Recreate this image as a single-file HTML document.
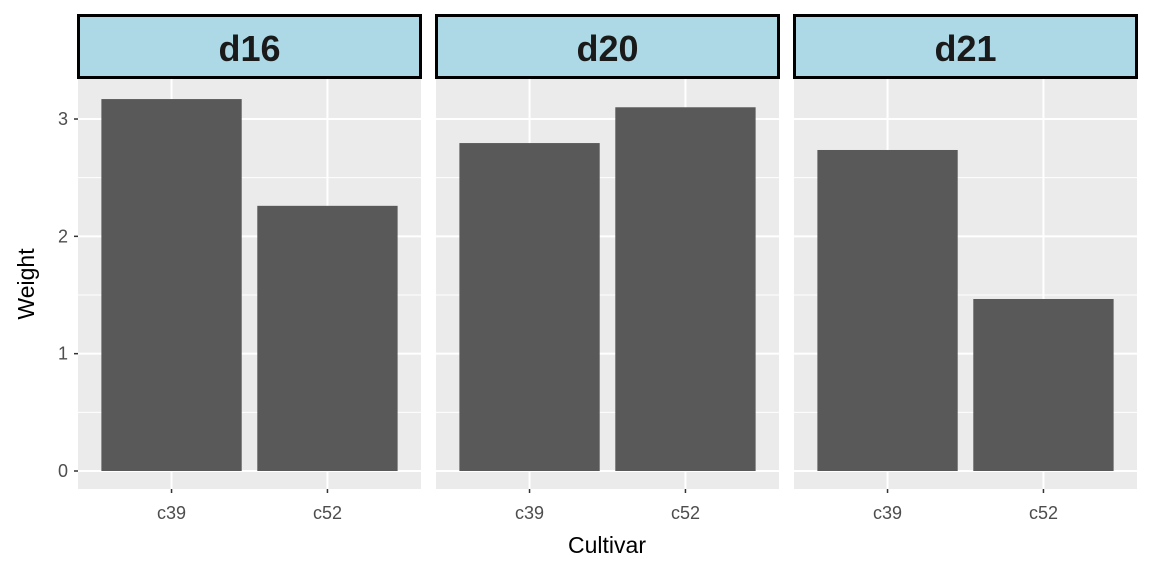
<!DOCTYPE html>
<html><head><meta charset="utf-8"><style>
html,body{margin:0;padding:0;background:#fff;}
svg{display:block;font-family:"Liberation Sans",sans-serif;}
</style></head><body>
<svg id="chart" width="1152" height="576"></svg>
<script>
const facets = ["d16","d20","d21"];
const categories = ["c39","c52"];
const weights = [[3.17,2.26],[2.795,3.10],[2.736,1.466]];
const yTicks = [0,1,2,3];

const NS="http://www.w3.org/2000/svg";
const svg=document.getElementById('chart');
function mk(tag,attrs,parent){const e=document.createElementNS(NS,tag);for(const k in attrs)e.setAttribute(k,attrs[k]);(parent||svg).appendChild(e);return e;}
const panelX=[78,436,794], panelW=343, panelTop=79, panelBottom=489;
const y0=471, yUnit=117.33;
const yS=v=>y0-v*yUnit;
const xS=(i,p)=>panelX[p]+(i+0.6)*(panelW/2.2);
const bw=0.9*panelW/2.2;

facets.forEach((f,p)=>{
  const g=mk('g',{});
  
  
  const bg=mk('rect',{x:panelX[p],y:panelTop,width:panelW,height:panelBottom-panelTop,fill:'#ebebeb'},g);
  
  
  for(let v=0.5;v<=3.5;v+=1){const yy=yS(v);if(yy>panelTop)mk('line',{x1:panelX[p],x2:panelX[p]+panelW,y1:yy,y2:yy,stroke:'#fff','stroke-width':1},g);}
  yTicks.forEach(v=>{const l=mk('line',{x1:panelX[p],x2:panelX[p]+panelW,y1:yS(v),y2:yS(v),stroke:'#fff','stroke-width':2},g);});
  categories.forEach((c,i)=>{mk('line',{x1:xS(i,p),x2:xS(i,p),y1:panelTop,y2:panelBottom,stroke:'#fff','stroke-width':2},g);});
  categories.forEach((c,i)=>{
    const v=weights[p][i];
    const b=mk('rect',{x:xS(i,p)-bw/2,y:yS(v),width:bw,height:yS(0)-yS(v),fill:'#595959'},g);
    
    
    mk('line',{x1:xS(i,p),x2:xS(i,p),y1:panelBottom,y2:panelBottom+4,stroke:'#333','stroke-width':1.5},g);
    const t=mk('text',{x:xS(i,p),y:519,'text-anchor':'middle','font-size':18,fill:'#4d4d4d'},g);
    t.textContent=c;
    
    
  });
  const s=mk('rect',{x:panelX[p]+0.5,y:15.5,width:panelW-1,height:62,fill:'#add8e6',stroke:'#000','stroke-width':3},g);
  
  
  const st=mk('text',{x:panelX[p]+panelW/2,y:61,'text-anchor':'middle','font-size':36,'font-weight':'bold',fill:'#1a1a1a'},g);
  st.textContent=f;
  
  
});
yTicks.forEach(v=>{
  mk('line',{x1:74,x2:78,y1:yS(v),y2:yS(v),stroke:'#333','stroke-width':1.5});
  const t=mk('text',{x:68,y:yS(v)+6,'text-anchor':'end','font-size':18,fill:'#4d4d4d'});
  t.textContent=v;
  
  
});
const xt=mk('text',{x:607,y:553,'text-anchor':'middle','font-size':23,fill:'#000'});
xt.textContent='Cultivar';


const yt=mk('text',{x:0,y:0,'text-anchor':'middle','font-size':23,fill:'#000',transform:'translate(34,284) rotate(-90)'});
yt.textContent='Weight';


</script>
</body></html>
